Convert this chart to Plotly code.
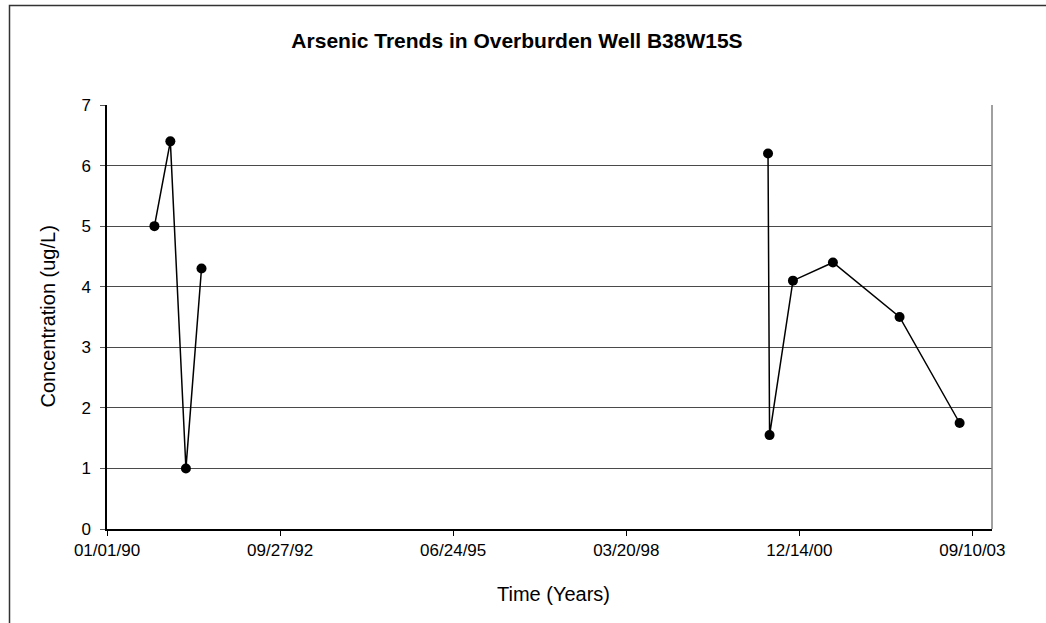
import plotly.graph_objects as go

# Sampling rounds: early monitoring (1990-1991) and later monitoring (2000-2003)
early_dates = ["1990-10-02", "1991-01-02", "1991-04-02", "1991-07-01"]
early_arsenic = [5.0, 6.4, 1.0, 4.3]

late_dates = ["2000-06-16", "2000-06-25", "2000-11-07", "2001-06-26",
              "2002-07-16", "2003-06-28"]
late_arsenic = [6.2, 1.55, 4.1, 4.4, 3.5, 1.75]

chart_title = "Arsenic Trends in Overburden Well B38W15S"
x_title = "Time (Years)"
y_title = "Concentration (ug/L)"

FONT = "Arial, 'Liberation Sans', sans-serif"
DAY_MS = 86400000

W, H = 1046, 623
L, R, T, B = 107, 54, 105, 94
pw, ph = W - L - R, H - T - B

def px_to_paper_x(px):
    return (px - L) / pw

def py_to_paper_y(py):
    return (H - B - py) / ph

fig = go.Figure()
for xs, ys in [(early_dates, early_arsenic), (late_dates, late_arsenic)]:
    fig.add_trace(go.Scatter(
        x=xs, y=ys, mode="lines+markers",
        line=dict(color="black", width=1.5),
        marker=dict(color="black", size=10),
        showlegend=False, cliponaxis=False,
    ))

fig.update_layout(
    width=W, height=H,
    margin=dict(l=L, r=R, t=T, b=B),
    paper_bgcolor="white", plot_bgcolor="white",
    font=dict(family=FONT, color="black", size=17),
    title=dict(text="<b>" + chart_title + "</b>", x=517 / W, xref="container",
               y=1 - 41 / H, yref="container", xanchor="center", yanchor="middle",
               font=dict(size=21, family=FONT, color="black")),
    xaxis=dict(
        type="date", range=["1990-01-01", "2004-01-01"],
        tick0="1990-01-01", dtick=1000 * DAY_MS, tickformat="%m/%d/%y",
        showgrid=False, zeroline=False,
        showline=True, linecolor="black", linewidth=1.5,
        ticks="outside", ticklen=5, tickcolor="black", tickwidth=1,
        tickfont=dict(size=17, family=FONT),
    ),
    yaxis=dict(
        range=[0, 7], dtick=1,
        showgrid=True, gridcolor="#4a4a4a", gridwidth=1,
        zeroline=False,
        showline=True, linecolor="black", linewidth=1.5,
        ticks="outside", ticklen=5, tickcolor="#555", tickwidth=1,
        tickfont=dict(size=17, family=FONT),
        ticklabelstandoff=6,
    ),
    annotations=[
        dict(text=x_title, xref="paper", yref="paper",
             x=px_to_paper_x(553), y=py_to_paper_y(594),
             xanchor="center", yanchor="middle", showarrow=False,
             font=dict(size=20, family=FONT)),
        dict(text=y_title, xref="paper", yref="paper",
             x=px_to_paper_x(47.5), y=0.5, textangle=-90,
             xanchor="center", yanchor="middle", showarrow=False,
             font=dict(size=20, family=FONT)),
    ],
    shapes=[
        # plot-area frame (right side in grey)
        dict(type="line", xref="paper", yref="paper", x0=1, x1=1, y0=0, y1=1,
             line=dict(color="#808080", width=1.5)),
        # chart-area outer border
        dict(type="rect", xref="paper", yref="paper",
             x0=px_to_paper_x(9.5), x1=px_to_paper_x(1070),
             y0=py_to_paper_y(660), y1=py_to_paper_y(5.5),
             line=dict(color="#333333", width=1.5), layer="below"),
    ],
)

fig.write_html("out.html")
